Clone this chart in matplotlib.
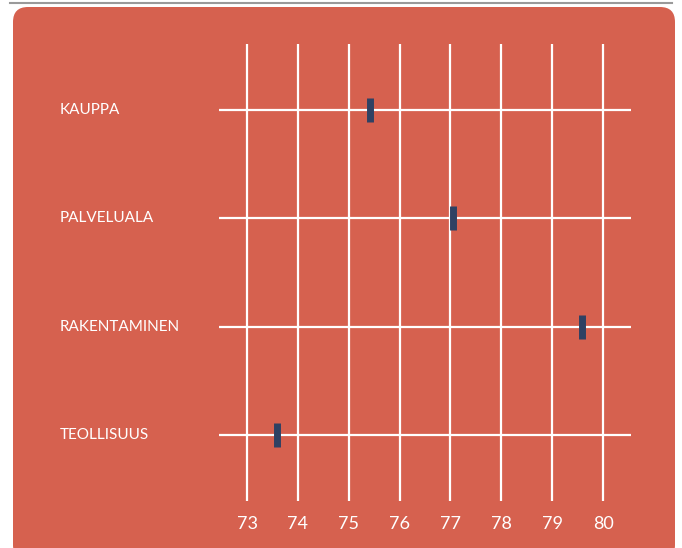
import matplotlib
matplotlib.use("Agg")
import matplotlib.pyplot as plt
from matplotlib.patches import FancyBboxPatch
from matplotlib.lines import Line2D
import matplotlib.transforms as mtransforms

categories = ["TEOLLISUUS", "RAKENTAMINEN", "PALVELUALA", "KAUPPA"]
values = [73.59, 79.59, 77.05, 75.42]
xticks = [73, 74, 75, 76, 77, 78, 79, 80]

W, H = 682, 548
RED = "#d6614f"
NAVY = "#2f4163"

plt.rcParams['font.family'] = ['Lato', 'DejaVu Sans']

fig = plt.figure(figsize=(W / 100, H / 100), dpi=100)

# grey rule at the top
fig.add_artist(Line2D([10 / W, 672 / W], [1 - 3 / H, 1 - 3 / H],
                      color="#9a9a9a", lw=1.5, transform=fig.transFigure,
                      zorder=-10))

# red rounded panel (behind the axes)
panel = FancyBboxPatch((13 / W, -12 / H), (675 - 13) / W, (548 - 7 + 12) / H,
                       boxstyle="round,pad=0,rounding_size=0.022",
                       transform=fig.transFigure, facecolor=RED,
                       edgecolor="none", mutation_aspect=W / H, zorder=-10)
fig.add_artist(panel)

ax = fig.add_axes([219 / W, 1 - 501 / H, (631 - 219) / W, (501 - 44) / H])
ax.patch.set_alpha(0)
for s in ax.spines.values():
    s.set_visible(False)

ys = list(range(len(categories)))
ax.set_xlim(72.449, 80.55)
ax.set_ylim(-0.604, 3.608)
ax.set_xticks(xticks)
ax.set_yticks(ys)
ax.set_yticklabels([])
ax.tick_params(length=0, axis="both")
ax.tick_params(axis="x", colors="white", labelsize=13, pad=11)
ax.grid(True, color="white", lw=1.6)
ax.set_axisbelow(True)

ax.plot(values, ys, ls="none", marker="|", ms=17.5, mew=5, color=NAVY,
        zorder=3)

trans = mtransforms.blended_transform_factory(fig.transFigure, ax.transData)
for y, name in zip(ys, categories):
    ax.text(60 / W, y, name, transform=trans, ha="left", va="center",
            color="white", fontsize=11)

fig.savefig("out.png", dpi=100)
